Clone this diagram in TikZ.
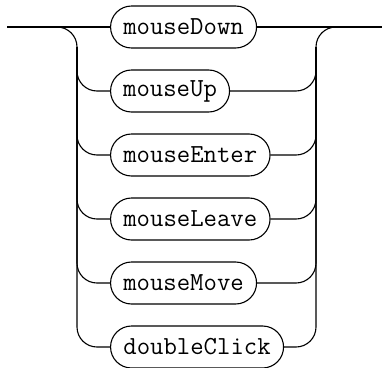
\documentclass[tikz,border=0pt]{standalone}
\usepackage{fontspec}
\begin{document}
\begin{tikzpicture}[x=1pt,y=-1pt,
  term/.style={draw, line width=1.1pt, rounded corners=21pt, minimum height=42pt,
    minimum width=13.5pt*#1+24.5pt,
    inner xsep=0pt, inner ysep=0pt, anchor=west,
    font=\fontsize{26}{30}\selectfont\ttfamily},
  rail/.style={line width=1.1pt, rounded corners=20pt}]
\useasboundingbox (0,0) rectangle (382,367);
\coordinate (in) at (7,27);
\coordinate (out) at (382,27);
\coordinate (lj) at (77,27);
\coordinate (ljd) at (77,47);
\coordinate (rj) at (316,27);
\coordinate (rjd) at (316,47);
\node[term=9] (b1) at (110,27) {mouseDown};
\node[term=7] (b2) at (110,91) {mouseUp};
\node[term=10] (b3) at (110,155) {mouseEnter};
\node[term=10] (b4) at (110,219) {mouseLeave};
\node[term=9] (b5) at (110,283) {mouseMove};
\node[term=11] (b6) at (110,347) {doubleClick};
\draw[rail] (in) -- (b1.west);
\draw[rail] (b1.east) -- (out);
\draw[rail] (in) -- (lj) |- (b6.west);
\draw[rail] (b6.east) -| (rj) -- (out);
\foreach \k in {2,3,4,5}{
  \draw[rail] (ljd) |- (b\k.west);
  \draw[rail] (b\k.east) -| (rjd);
}
\end{tikzpicture}
\end{document}
